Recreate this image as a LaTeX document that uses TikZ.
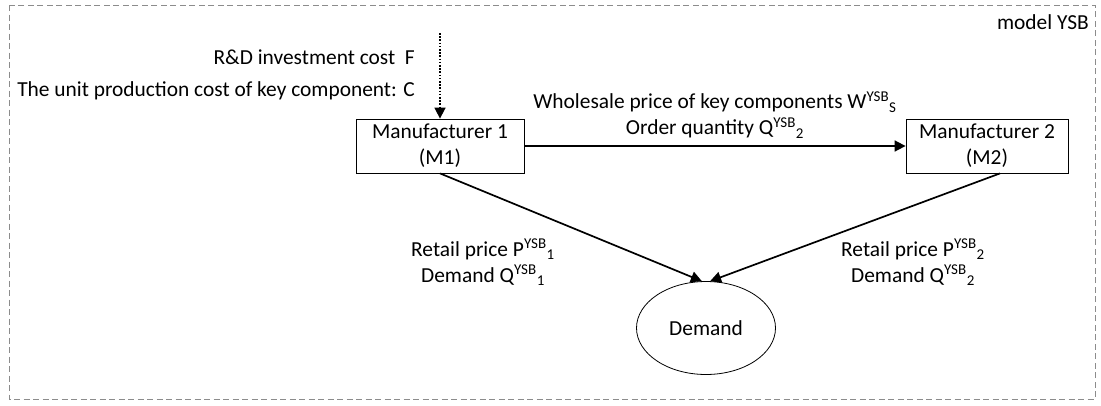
\documentclass[tikz,border=0pt]{standalone}
\usepackage{fontspec}
\setmainfont{Carlito}
\usetikzlibrary{arrows.meta,shapes.geometric}
\begin{document}
\begin{tikzpicture}[x=1pt,y=-1pt,
  every node/.style={font=\fontsize{21.4}{26}\selectfont, inner sep=0pt},
  box/.style={draw, line width=0.8pt, minimum width=168pt, minimum height=54pt, align=center},
  conn/.style={line width=1.7pt, -{Triangle[length=11pt,width=11pt]}},
  lbl/.style={align=center}]
\useasboundingbox (0,0) rectangle (1101,405);
\draw[gray!90, line width=1pt, dash pattern=on 6pt off 3.5pt] (9,5) rectangle (1095,399);
\node[anchor=north east] (title) at (1089,14) {model YSB};
\node[box] (m1) at (440,146) {Manufacturer 1\\(M1)};
\node[box, minimum width=162pt] (m2) at (987,146) {Manufacturer 2\\(M2)};
\node[draw, ellipse, line width=0.8pt, minimum width=139pt, minimum height=93pt] (d) at (706,328) {Demand};
\node[anchor=east] (rd) at (415,57) {R\&D investment cost\ \ F};
\node[anchor=east] (uc) at (415,91) {The unit production cost of key component: C};
\node[lbl] (ws) at (715,115) {Wholesale price of key components W\textsuperscript{YSB}\textsubscript{S}\\Order quantity Q\textsuperscript{YSB}\textsubscript{2}};
\node[lbl] (r1) at (483,262) {Retail price P\textsuperscript{YSB}\textsubscript{1}\\Demand Q\textsuperscript{YSB}\textsubscript{1}};
\node[lbl] (r2) at (913,262) {Retail price P\textsuperscript{YSB}\textsubscript{2}\\Demand Q\textsuperscript{YSB}\textsubscript{2}};
\coordinate (src) at (440,33);
\draw[line width=1.6pt, dash pattern=on 1.6pt off 1.6pt, -{Triangle[length=11pt,width=11pt]}] (src) -- (m1.north);
\draw[conn] (m1.east) -- (m2.west);
\draw[conn] (m1.south) -- (d.95);
\draw[conn] ([xshift=13pt]m2.south) -- (d.85);
\end{tikzpicture}
\end{document}
